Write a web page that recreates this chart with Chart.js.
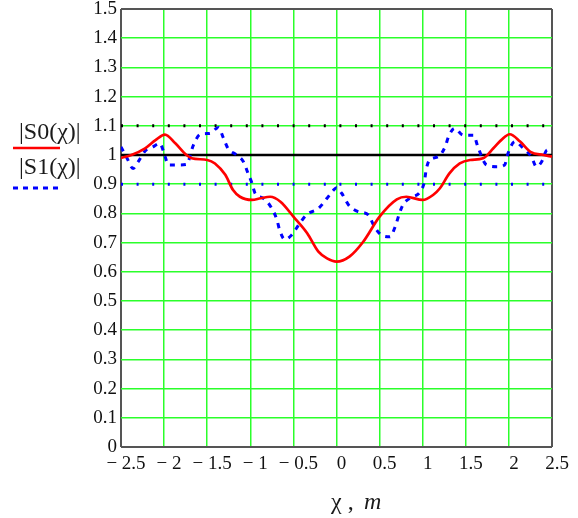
<!DOCTYPE html>
<html>
<head>
<meta charset="utf-8">
<script src="https://cdn.jsdelivr.net/npm/chart.js@4/dist/chart.umd.min.js"></script>
<style>
    html, body { margin: 0; padding: 0; background: #fff; }
    #wrap { width: 578px; height: 518px; }
</style>
</head>
<body>
<div id="wrap"><canvas id="chart" width="578" height="518"></canvas></div>
<script>
// |S0(x)| - red solid trace
const xS0 = [-2.5, -2.38, -2.22, -2.1, -1.99, -1.87, -1.74, -1.68, -1.5, -1.41, -1.29, -1.2, -1.12, -0.98, -0.88, -0.77, -0.65, -0.5, -0.34, -0.21, -0.11, 0,
             0.15, 0.31, 0.5, 0.7, 0.81, 1.0, 1.12, 1.2, 1.31, 1.43, 1.55, 1.7, 1.82, 1.91, 2.01, 2.13, 2.25, 2.4, 2.5];
const yS0 = [0.99, 1.0, 1.023, 1.051, 1.07, 1.04, 1.0, 0.989, 0.983, 0.971, 0.932, 0.88, 0.857, 0.846, 0.852, 0.857, 0.84, 0.789, 0.732, 0.669, 0.646, 0.635,
             0.652, 0.703, 0.789, 0.848, 0.857, 0.846, 0.863, 0.886, 0.937, 0.971, 0.983, 0.989, 1.023, 1.051, 1.071, 1.046, 1.011, 1.0, 0.994];

// |S1(x)| - blue dotted trace
const xS1 = [-2.5, -2.43, -2.36, -2.3, -2.22, -2.13, -2.05, -2.0, -1.95, -1.84, -1.74, -1.66, -1.58, -1.47, -1.37, -1.31, -1.26, -1.16, -1.08, -1.02, -0.98,
             -0.945, -0.85, -0.75, -0.69, -0.66, -0.6, -0.52, -0.44, -0.35, -0.21, -0.11, -0.04, 0, 0.06, 0.14, 0.25, 0.37, 0.43, 0.52, 0.62, 0.68, 0.73,
             0.77, 0.85, 0.97, 1.02, 1.04, 1.08, 1.18, 1.26, 1.3, 1.37, 1.47, 1.59, 1.64, 1.74, 1.86, 1.95, 1.99, 2.07, 2.15, 2.26, 2.32, 2.38, 2.44, 2.5];
const yS1 = [1.028, 0.989, 0.954, 0.977, 1.014, 1.028, 1.04, 1.006, 0.966, 0.966, 0.968, 1.034, 1.071, 1.074, 1.094, 1.057, 1.023, 1.0, 0.977, 0.932, 0.903,
             0.869, 0.852, 0.817, 0.777, 0.743, 0.711, 0.726, 0.76, 0.795, 0.817, 0.852, 0.878, 0.888, 0.869, 0.829, 0.806, 0.795, 0.76, 0.726, 0.72, 0.754, 0.80,
             0.829, 0.852, 0.874, 0.909, 0.949, 0.983, 0.994, 1.028, 1.063, 1.091, 1.068, 1.068, 1.028, 0.966, 0.96, 0.966, 1.006, 1.046, 1.028, 0.994, 0.96, 0.977, 1.017, 1.02];

// horizontal markers
const markerMid = 1.0;
const markerHigh = 1.1;
const markerLow = 0.9;

// axis ticks
const xTickValues = [-2.5, -2, -1.5, -1, -0.5, 0, 0.5, 1, 1.5, 2, 2.5];
const xTickLabels = ['\u2212 2.5', '\u2212 2', '\u2212 1.5', '\u2212 1', '\u2212 0.5', '0', '0.5', '1', '1.5', '2', '2.5'];
const xMin = -2.5, xMax = 2.5;
const yMin = 0, yMax = 1.5, yStep = 0.1;

const GRID_GREEN = '#2bff2b';
const FRAME = '#555555';
const SERIF = '"Liberation Serif", "Times New Roman", serif';

function toPoints(xs, ys) {
    return xs.map((x, i) => ({ x: x, y: ys[i] }));
}

function flatLine(level) {
    return [{ x: xMin, y: level }, { x: xMax, y: level }];
}

// Left-side trace names and the x axis title, drawn like Mathcad does
const labelsPlugin = {
    id: 'mathcadLabels',
    afterDraw(chart) {
        const ctx = chart.ctx;
        ctx.save();
        ctx.fillStyle = '#1a1a1a';
        ctx.textBaseline = 'alphabetic';
        ctx.textAlign = 'left';
        ctx.font = '24px ' + SERIF;
        ctx.fillText('|S0(\u03C7)|', 19, 139);
        ctx.fillText('|S1(\u03C7)|', 19, 174);

        ctx.strokeStyle = '#ff0000';
        ctx.lineWidth = 2.5;
        ctx.beginPath();
        ctx.moveTo(13, 148);
        ctx.lineTo(60, 148);
        ctx.stroke();

        ctx.strokeStyle = '#0000ff';
        ctx.lineWidth = 3;
        ctx.setLineDash([5, 5]);
        ctx.beginPath();
        ctx.moveTo(13, 188);
        ctx.lineTo(60, 188);
        ctx.stroke();
        ctx.setLineDash([]);

        // x axis title
        ctx.font = '24px ' + SERIF;
        ctx.fillText('\u03C7 ,', 331, 509);
        ctx.font = 'italic 24px ' + SERIF;
        ctx.fillText('m', 364, 509);
        ctx.restore();
    }
};

function isEdge(ctx, count) {
    return ctx.index === 0 || ctx.index === count - 1;
}

const chart = new Chart(document.getElementById('chart').getContext('2d'), {
    type: 'line',
    data: {
        datasets: [
            {
                data: toPoints(xS0, yS0),
                borderColor: '#ff0000',
                borderWidth: 2.7,
                cubicInterpolationMode: 'monotone',
                pointRadius: 0
            },
            {
                data: toPoints(xS1, yS1),
                borderColor: '#0000ff',
                borderWidth: 3,
                borderDash: [5, 6],
                cubicInterpolationMode: 'monotone',
                pointRadius: 0
            },
            {
                data: flatLine(markerMid),
                borderColor: '#000000',
                borderWidth: 2.5,
                pointRadius: 0
            },
            {
                data: flatLine(markerHigh),
                borderColor: '#000000',
                borderWidth: 3,
                borderDash: [2, 13.6],
                pointRadius: 0
            },
            {
                data: flatLine(markerLow),
                borderColor: '#0000ff',
                borderWidth: 3,
                borderDash: [2, 13.6],
                pointRadius: 0
            }
        ]
    },
    options: {
        responsive: false,
        animation: false,
        layout: {
            padding: { left: 0, right: 26, top: 9, bottom: 0 }
        },
        plugins: {
            legend: { display: false },
            tooltip: { enabled: false }
        },
        scales: {
            x: {
                type: 'linear',
                min: xMin,
                max: xMax,
                afterBuildTicks(axis) {
                    axis.ticks = xTickValues.map(v => ({ value: v }));
                },
                afterFit(axis) {
                    axis.height = 71;
                    axis.paddingLeft = 0;
                    axis.paddingRight = 0;
                },
                border: { display: false },
                grid: {
                    drawTicks: false,
                    color: ctx => isEdge(ctx, xTickValues.length) ? FRAME : GRID_GREEN,
                    lineWidth: ctx => isEdge(ctx, xTickValues.length) ? 2 : 1.5
                },
                ticks: {
                    color: '#111',
                    padding: 6,
                    labelOffset: 5,
                    maxRotation: 0,
                    autoSkip: false,
                    font: { family: SERIF, size: 19 },
                    callback: (value, index) => xTickLabels[index]
                }
            },
            y: {
                type: 'linear',
                min: yMin,
                max: yMax,
                afterFit(axis) {
                    axis.width = 121;
                    axis.paddingTop = 0;
                    axis.paddingBottom = 0;
                },
                border: { display: false },
                grid: {
                    drawTicks: false,
                    color: ctx => isEdge(ctx, 16) ? FRAME : GRID_GREEN,
                    lineWidth: ctx => isEdge(ctx, 16) ? 2 : 1.5
                },
                ticks: {
                    color: '#111',
                    padding: 4,
                    stepSize: yStep,
                    font: { family: SERIF, size: 19 },
                    callback: value => String(Number(value.toFixed(1)))
                }
            }
        }
    },
    plugins: [labelsPlugin]
});
</script>
</body>
</html>
